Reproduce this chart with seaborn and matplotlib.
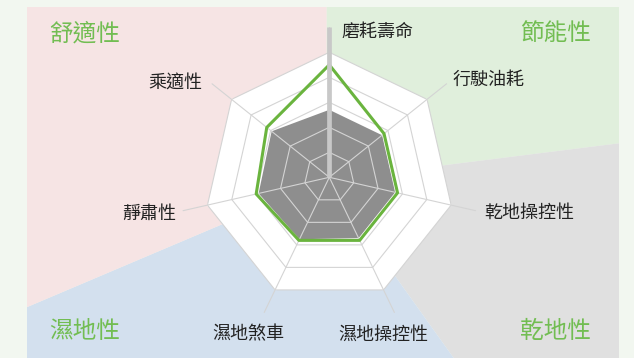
import numpy as np
import seaborn as sns
import matplotlib.pyplot as plt

# axes of the radar, clockwise from the top
categories = ['磨耗壽命', '行駛油耗', '乾地操控性', '濕地操控性', '濕地煞車', '靜肅性', '乘適性']
product = [4.5, 2.8, 2.8, 2.8, 2.8, 3.0, 3.2]
reference = [2.7, 2.7, 2.7, 2.7, 2.75, 2.9, 2.95]
wear_bar = 6.0
levels = [1, 2, 3, 4, 5]

# background groups (clockwise from the top) and their angular span in degrees
groups = ['節能性', '乾地性', '濕地性', '舒適性']
group_span = [82.85, 61.6, 102.55, 113.0]
group_colors = ['#e0efdc', '#e0e0e0', '#d3e0ee', '#f6e4e4']

sns.set_theme(style='white')
plt.rcParams['font.family'] = ['Noto Sans CJK TC', 'DejaVu Sans']

W, H = 634, 358
fig = plt.figure(figsize=(W / 100, H / 100), dpi=100, facecolor='#f2f7f0')

# coloured panel behind the radar
bg = fig.add_axes([27 / W, 0, (619 - 27) / W, (358 - 7) / H])
wedges, _ = bg.pie(group_span, colors=group_colors, startangle=90, counterclock=False,
                   center=(326.5, 358 - 180), radius=900, frame=True,
                   wedgeprops=dict(linewidth=0))
for w in wedges:
    w.set_clip_on(True)
    w.set_clip_path(bg.patch)
bg.set_aspect('auto')
bg.set_xlim(27, 619)
bg.set_ylim(0, 358 - 7)
bg.axis('off')

green_txt = '#72bd52'
for name, (x, y) in zip(groups, [(555, 34), (555, 332), (85, 332), (85, 34)]):
    fig.text(x / W, 1 - y / H, name, color=green_txt, fontsize=17,
             ha='center', va='center')

# radar
cx, cy, unit = 329.3, 177.3, 25
rmax = levels[-1]
ax = fig.add_axes([(cx - rmax * unit) / W, (H - cy - rmax * unit) / H,
                   2 * rmax * unit / W, 2 * rmax * unit / H], projection='polar')
ax.set_theta_zero_location('N')
ax.set_theta_direction(-1)
ax.set_ylim(0, rmax)
ax.axis('off')

n = len(categories)
theta = np.arange(n) * 2 * np.pi / n
th_c = np.append(theta, theta[0])

grid_col = '#d4d4d4'
ax.fill(th_c, [rmax] * (n + 1), color='white', zorder=1, lw=0)
ax.fill(th_c, np.append(reference, reference[0]), color='#8e8e8e', zorder=2, lw=0)
for lv in levels:
    ax.plot(th_c, [lv] * (n + 1), color=grid_col, lw=0.8, zorder=3)
for t in theta:
    ax.plot([t, t], [0, wear_bar], color=grid_col, lw=0.8, zorder=3, clip_on=False)

sns.lineplot(x=th_c, y=np.append(product, product[0]), sort=False, estimator=None,
             color='#6ab43e', lw=2.2, ax=ax, zorder=4)
ax.plot([0, 0], [0, wear_bar], color='#c8c8c8', lw=3.4, solid_capstyle='butt',
        zorder=5, clip_on=False)
ax.set_xlabel('')
ax.set_ylabel('')

# category labels
lab_r = [6.12, 7.46, 8.14, 6.66, 7.06, 7.36, 7.21]
lab_dth = [18.2, 7.2, -2.8, 6.9, 1.7, 1.4, -7.4]
for t, name, r, d in zip(theta, categories, lab_r, lab_dth):
    ax.text(t + np.deg2rad(d), r, name, fontsize=13, color='#222222',
            ha='center', va='center')

fig.savefig('out.png', dpi=100, facecolor=fig.get_facecolor())
